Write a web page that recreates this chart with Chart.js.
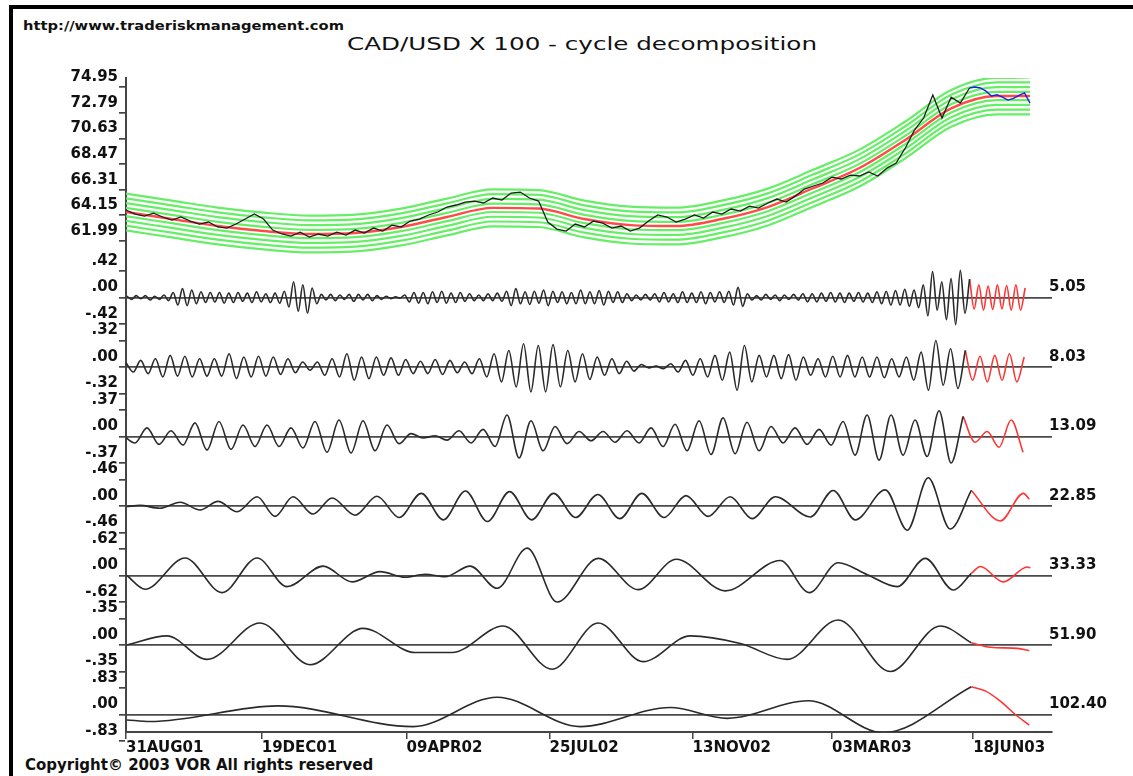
<!DOCTYPE html>
<html>
<head>
<meta charset="utf-8">
<script src="https://cdn.jsdelivr.net/npm/chart.js@4.4.1/dist/chart.umd.min.js"></script>
<style>
  html, body { margin: 0; padding: 0; background: #fff; }
  #wrap { position: relative; width: 1133px; height: 776px; overflow: hidden; background: #fff; }
  #chart { position: absolute; left: 0; top: 0; }
  .frame-top { position: absolute; left: 9px; top: 5px; width: 1124px; height: 4px; background: #000; }
  .frame-left { position: absolute; left: 9px; top: 5px; width: 4px; height: 771px; background: #000; }
  .txt { position: absolute; white-space: nowrap; line-height: 1; color: #111; transform-origin: 0 0; }
</style>
</head>
<body>
<div id="wrap">
  <div class="frame-top"></div>
  <div class="frame-left"></div>
  <div class="txt" style="left:23px;top:18px;font:bold 13px 'DejaVu Sans';transform:scaleX(1.13)">http://www.traderiskmanagement.com</div>
  <div class="txt" style="left:347px;top:33px;font:18.5px 'DejaVu Sans';transform:scaleX(1.33)">CAD/USD X 100 - cycle decomposition</div>
  <div class="txt" style="left:25px;top:756px;font:bold 15px 'DejaVu Sans'">Copyright© 2003 VOR All rights reserved</div>
  <canvas id="chart" width="1133" height="776"></canvas>
</div>
<script>
// x axis is the bar number, 0 = 31AUG01
const dateLabels = ['31AUG01', '19DEC01', '09APR02', '25JUL02', '13NOV02', '03MAR03', '18JUN03'];
const dateBars   = [0, 74, 153, 231, 309, 385, 462];
const lastBar = 505;

// ---- top panel: price, smoothed trend and bands
const priceTicks = [61.99, 64.15, 66.31, 68.47, 70.63, 72.79, 74.95];
const priceMin = 60.16, priceMax = 75.71;
const priceStep = 5;            // bars between samples
const price = [
  64.60, 64.26, 64.09, 64.34, 64.01, 63.75, 64.01, 63.67, 63.42, 63.59,
  63.17, 63.08, 63.42, 63.84, 64.26, 63.84, 62.91, 62.58, 62.41, 62.74,
  62.32, 62.58, 62.41, 62.74, 62.49, 62.91, 62.66, 63.08, 62.83, 63.33,
  63.17, 63.67, 63.84, 64.18, 64.43, 64.85, 65.02, 65.27, 65.35, 65.19,
  65.61, 65.44, 66.03, 66.11, 65.61, 65.35, 63.59, 62.99, 62.83, 63.42,
  63.17, 63.67, 63.50, 63.08, 63.25, 62.83, 63.08, 63.67, 64.18, 64.01,
  63.59, 63.84, 64.18, 63.92, 64.43, 64.26, 64.68, 64.51, 64.93, 64.76,
  65.19, 65.52, 65.27, 65.77, 66.36, 66.62, 66.87, 67.37, 67.21, 67.54,
  67.46, 67.80, 67.46, 68.13, 68.55, 69.82, 71.33, 72.34, 74.28, 72.34,
  74.10, 73.60, 74.87
];
const tailStart = 460, tailStep = 3;
const priceTail = [74.87, 74.95, 74.87, 74.60, 74.20, 74.30, 74.10, 73.85, 74.00, 74.25, 74.45, 73.60];
const trendBars = [0, 25, 50, 75, 100, 125, 150, 175, 200, 225, 250, 275, 300, 325, 350, 375, 400, 425, 450, 475, 493];
const trendValues = [64.43, 63.84, 63.25, 62.83, 62.58, 62.66, 63.17, 64.01, 64.78, 64.72, 63.84,
                     63.33, 63.25, 63.84, 64.85, 66.45, 68.13, 70.50, 73.15, 74.19, 74.20];
const bandOffsets = [1.55, 1.15, 0.75, 0.35, -0.35, -0.75, -1.15, -1.55];

// ---- cycle panels
const periods   = [5.05, 8.03, 13.09, 22.85, 33.33, 51.90, 102.40];
const tickSpans = [0.42, 0.32, 0.37, 0.46, 0.62, 0.35, 0.83];

// fast cycles: turning points every half period from a start bar
const c505Start = 0.5;
const c505 = [
  0.02,-0.03,0.03,-0.02,0.03,-0.04,0.02,-0.03,0.04,-0.05,
  0.08,-0.12,0.14,-0.13,0.12,-0.1,0.09,-0.08,0.08,-0.07,
  0.08,-0.09,0.07,-0.08,0.08,-0.06,0.07,-0.08,0.09,-0.07,
  0.06,-0.08,0.07,-0.09,0.1,-0.15,0.25,-0.22,0.2,-0.25,
  0.15,-0.1,0.05,-0.04,0.05,-0.05,0.04,-0.03,0.05,-0.06,
  0.05,-0.04,0.05,-0.05,0.03,-0.03,0.02,-0.02,0.01,-0.01,
  0.04,-0.07,0.08,-0.09,0.08,-0.1,0.09,-0.08,0.1,-0.09,
  0.07,-0.08,0.08,-0.06,0.06,-0.05,0.04,-0.05,0.06,-0.05,
  0.07,-0.06,0.1,-0.13,0.14,-0.1,0.09,-0.11,0.1,-0.09,
  0.12,-0.13,0.1,-0.08,0.09,-0.1,0.08,-0.1,0.12,-0.1,
  0.09,-0.1,0.11,-0.12,0.1,-0.08,0.09,-0.08,0.06,-0.05,
  0.04,-0.04,0.05,-0.04,0.06,-0.07,0.08,-0.07,0.06,-0.08,
  0.09,-0.08,0.07,-0.08,0.09,-0.1,0.08,-0.07,0.09,-0.08,
  0.1,-0.12,0.16,-0.14,0.06,-0.04,0.03,-0.04,0.05,-0.03,
  0.04,-0.05,0.04,-0.03,0.05,-0.04,0.06,-0.07,0.06,-0.07,
  0.07,-0.06,0.08,-0.07,0.07,-0.08,0.07,-0.06,0.08,-0.07,
  0.07,-0.08,0.09,-0.1,0.1,-0.12,0.11,-0.12,0.13,-0.14,
  0.12,-0.16,0.2,-0.29,0.41,-0.2,0.25,-0.35,0.3,-0.43,
  0.43,-0.25,0.29
];
const c505Proj = [0.29,-0.18,0.2,-0.2,0.18,-0.19,0.2,-0.18,0.19,-0.2,0.2,-0.2,0.15];

const c803Start = 0;
const c803 = [
  0.05,-0.06,0.08,-0.08,0.1,-0.12,0.14,-0.11,0.13,-0.12,
  0.1,-0.11,0.1,-0.11,0.16,-0.14,0.12,-0.12,0.13,-0.11,
  0.12,-0.09,0.1,-0.07,0.06,-0.04,0.06,-0.1,0.1,-0.12,
  0.16,-0.16,0.12,-0.14,0.12,-0.1,0.11,-0.1,0.09,-0.08,
  0.07,-0.08,0.09,-0.09,0.08,-0.07,0.06,-0.08,0.1,-0.12,
  0.16,-0.18,0.2,-0.24,0.28,-0.3,0.26,-0.3,0.27,-0.24,
  0.2,-0.18,0.16,-0.15,0.12,-0.1,0.1,-0.08,0.07,-0.05,
  0.03,-0.01,0.01,-0.02,0.04,-0.06,0.08,-0.1,0.1,-0.12,
  0.14,-0.16,0.18,-0.28,0.26,-0.18,0.14,-0.12,0.14,-0.14,
  0.15,-0.16,0.12,-0.1,0.1,-0.12,0.13,-0.12,0.14,-0.12,
  0.12,-0.12,0.12,-0.13,0.1,-0.12,0.12,-0.16,0.18,-0.28,
  0.32,-0.22,0.22,-0.26,0.2
];
const c803Proj = [0.2,-0.16,0.13,-0.18,0.14,-0.16,0.16,-0.18,0.12];

const c1309Start = -1.64;
const c1309 = [
  0.02,-0.09,0.12,-0.11,0.08,-0.12,0.19,-0.19,0.21,-0.18,
  0.16,-0.14,0.16,-0.14,0.12,-0.16,0.21,-0.22,0.23,-0.23,
  0.22,-0.2,0.16,-0.1,0.04,-0.02,0.01,-0.05,0.08,-0.09,
  0.1,-0.14,0.3,-0.3,0.22,-0.2,0.14,-0.1,0.07,-0.06,
  0.07,-0.08,0.08,-0.09,0.12,-0.14,0.17,-0.2,0.22,-0.25,
  0.26,-0.24,0.2,-0.2,0.14,-0.09,0.12,-0.11,0.1,-0.12,
  0.21,-0.26,0.3,-0.33,0.3,-0.26,0.23,-0.28,0.36,-0.37,
  0.28
];
const c1309Proj = [0.28,-0.08,0.07,-0.15,0.23,-0.22];

// slow cycles: turning points as bar / value pairs
const c2285Bars = [0.5,7.6,18.5,29.5,40.4,50.2,60.6,71.5,81.3,91.1,102.0,112.4,124.9,136.9,149.0,
  161.0,173.1,185.1,197.1,209.2,221.2,233.2,245.2,257.3,269.3,281.3,293.4,305.4,317.5,329.5,
  341.5,354.1,373.2,385.7,397.7,414.1,426.1,437.5,449.5,461];
const c2285 = [-0.01,0.01,-0.04,0.065,-0.07,0.08,-0.1,0.16,-0.18,0.16,-0.14,0.14,-0.16,0.17,-0.2,
  0.22,-0.24,0.26,-0.27,0.25,-0.24,0.22,-0.2,0.2,-0.22,0.22,-0.2,0.18,-0.18,0.16,
  -0.22,0.16,-0.19,0.27,-0.24,0.28,-0.42,0.49,-0.4,0.27];
const c2285ProjBars = [461, 476.8, 489.4, 492.6];
const c2285Proj = [0.27, -0.26, 0.22, 0.12];

const c3333Bars = [0.5,10.4,32.2,52.4,71.5,87.8,107.5,123.3,138.6,152.2,163.1,174.0,187.7,202.4,
  218.8,235.1,257.5,279.3,300.1,326.8,356.8,372.6,388.4,404.3,420.6,435.9,451.2,461];
const c3333 = [0,-0.32,0.41,-0.40,0.41,-0.26,0.22,-0.15,0.09,-0.04,0.03,-0.03,0.22,-0.30,
  0.64,-0.62,0.40,-0.33,0.38,-0.36,0.35,-0.40,0.30,0.02,-0.26,0.40,-0.34,0.05];
const c3333ProjBars = [461, 465.9, 478.5, 491.5, 493.2];
const c3333Proj = [0.05, 0.21, -0.15, 0.2, 0.18];

const c5190Bars = [0.5,22.4,44.2,73.1,100.4,129.3,157.7,177.8,205.7,232.4,257.5,282.0,307.7,
  335.0,360.6,388.4,416.8,444.1,461];
const c5190 = [0,0.12,-0.19,0.29,-0.26,0.22,-0.10,-0.10,0.25,-0.32,0.29,-0.22,0.12,
  0.02,-0.19,0.33,-0.35,0.25,0.03];
const c5190ProjBars = [461, 471.4, 486.1, 492.6];
const c5190Proj = [0.03, -0.03, -0.045, -0.075];

const c10240Bars = [0.5,13.1,82.9,156.6,202.4,247.7,296.8,327.9,372.1,413.0,461];
const c10240 = [-0.17,-0.22,0.27,-0.38,0.54,-0.38,0.22,-0.12,0.43,-0.57,0.87];
const c10240ProjBars = [461, 468.6, 476.8, 485.0, 492.6];
const c10240Proj = [0.87, 0.74, 0.42, 0.0, -0.33];

// ---- helpers
const ink = '#2a2a2a', projInk = '#ff3434', axisInk = '#454545';
const tickFont = { family: 'DejaVu Sans', size: 15, weight: 'bold' };

function stepped(start, step, values, skip = 0) {
  return values.map((v, i) => ({ x: start + (i + skip) * step, y: v }));
}
function pairs(bars, values) {
  return bars.map((b, i) => ({ x: b, y: values[i] }));
}
function fmtSpan(v) {
  const s = Math.round(Math.abs(v) * 100).toString().padStart(2, '0');
  return (v < 0 ? '-' : '') + '.' + s;
}

const cycles = [
  { hist: stepped(c505Start, periods[0] / 2, c505),  proj: stepped(c505Start, periods[0] / 2, c505Proj, c505.length - 1) },
  { hist: stepped(c803Start, periods[1] / 2, c803),  proj: stepped(c803Start, periods[1] / 2, c803Proj, c803.length - 1) },
  { hist: stepped(c1309Start, periods[2] / 2, c1309), proj: stepped(c1309Start, periods[2] / 2, c1309Proj, c1309.length - 1) },
  { hist: pairs(c2285Bars, c2285),   proj: pairs(c2285ProjBars, c2285Proj) },
  { hist: pairs(c3333Bars, c3333),   proj: pairs(c3333ProjBars, c3333Proj) },
  { hist: pairs(c5190Bars, c5190),   proj: pairs(c5190ProjBars, c5190Proj) },
  { hist: pairs(c10240Bars, c10240), proj: pairs(c10240ProjBars, c10240Proj) },
];

// ---- datasets
const datasets = [];
datasets.push({
  data: stepped(0, priceStep, price), yAxisID: 'y0', borderColor: '#1e1e1e',
  borderWidth: 1.3, tension: 0, order: 0
});
datasets.push({
  data: stepped(tailStart, tailStep, priceTail), yAxisID: 'y0', borderColor: '#2020e0',
  borderWidth: 1.4, tension: 0, order: 0
});
datasets.push({
  data: pairs(trendBars, trendValues), yAxisID: 'y0', borderColor: '#ff4a4a',
  borderWidth: 2.4, cubicInterpolationMode: 'monotone', order: 1
});
bandOffsets.forEach(off => {
  datasets.push({
    data: pairs(trendBars, trendValues.map(v => v + off)), yAxisID: 'y0',
    borderColor: '#66ee66', borderWidth: 2.2, cubicInterpolationMode: 'monotone', order: 2
  });
});
cycles.forEach((c, k) => {
  datasets.push({ data: c.hist, yAxisID: 'y' + (k + 1), borderColor: ink, borderWidth: 1.6,
    cubicInterpolationMode: 'monotone', order: 0 });
  datasets.push({ data: c.proj, yAxisID: 'y' + (k + 1), borderColor: projInk, borderWidth: 1.6,
    cubicInterpolationMode: 'monotone', order: 0 });
});

// ---- scales (panels stacked on the left; heights in px of the reference)
const topHeight = 184.75, panelHeight = 69.5, lastHeight = 52.25;
const tickToEdge = 34.75 / 26.5;   // panel half height over tick distance

function yAxis(opts) {
  return Object.assign({
    type: 'linear', position: 'left', stack: 'panels',
    afterFit: s => { s.width = 126; },
    border: { display: true, color: axisInk, width: 2 },
    grid: {
      color: ctx => (ctx.tick && ctx.tick.value === 0 ? '#4a4a4a' : 'rgba(0,0,0,0)'),
      lineWidth: 1.7, drawTicks: true, tickLength: 7, tickColor: axisInk
    },
    ticks: { font: tickFont, color: '#111', padding: 1, labelOffset: -10, autoSkip: false }
  }, opts);
}

const scales = {
  x: {
    type: 'linear', position: 'bottom', min: 0, max: lastBar,
    afterFit: s => { s.height = 44; },
    afterBuildTicks: s => { s.ticks = dateBars.map(v => ({ value: v })); },
    border: { display: true, color: axisInk, width: 2 },
    grid: { drawOnChartArea: false, drawTicks: true, tickLength: 7, tickColor: axisInk, lineWidth: 1.5 },
    ticks: {
      font: tickFont, color: '#111', padding: 0, align: 'start', maxRotation: 0, autoSkip: false,
      callback: v => dateLabels[dateBars.indexOf(v)]
    }
  },
  y0: yAxis({
    min: priceMin, max: priceMax, stackWeight: topHeight, weight: 10,
    afterBuildTicks: s => { s.ticks = priceTicks.map(v => ({ value: v })); },
    ticks: { font: tickFont, color: '#111', padding: 1, labelOffset: -10, autoSkip: false,
      callback: v => v.toFixed(2) }
  })
};
tickSpans.forEach((span, k) => {
  const last = k === tickSpans.length - 1;
  scales['y' + (k + 1)] = yAxis({
    min: last ? -span * 17.5 / 26.5 : -span * tickToEdge,
    max: span * tickToEdge,
    stackWeight: last ? lastHeight : panelHeight,
    weight: 9 - k,
    afterBuildTicks: s => { s.ticks = [-span, 0, span].map(v => ({ value: v })); },
    ticks: { font: tickFont, color: '#111', padding: 1, labelOffset: -10, autoSkip: false,
      callback: v => fmtSpan(v) }
  });
});

// period names at the right end of each zero line
const periodLabels = {
  id: 'periodLabels',
  afterDraw(chart) {
    const ctx = chart.ctx;
    ctx.save();
    ctx.font = 'bold 15px "DejaVu Sans"';
    ctx.fillStyle = '#111';
    ctx.textAlign = 'left';
    ctx.textBaseline = 'middle';
    periods.forEach((p, k) => {
      const y = chart.scales['y' + (k + 1)].getPixelForValue(0) - 10;
      ctx.fillText(p.toFixed(2), chart.chartArea.right - 3, y);
    });
    ctx.restore();
  }
};

Chart.defaults.font.family = 'DejaVu Sans';
new Chart(document.getElementById('chart'), {
  type: 'line',
  data: { datasets },
  options: {
    responsive: false,
    animation: false,
    devicePixelRatio: 1,
    events: [],
    layout: { padding: { top: 78, left: 0, right: 81, bottom: 0 } },
    elements: { point: { radius: 0 }, line: { fill: false } },
    plugins: { legend: { display: false }, tooltip: { enabled: false } },
    scales
  },
  plugins: [periodLabels]
});
</script>
</body>
</html>
